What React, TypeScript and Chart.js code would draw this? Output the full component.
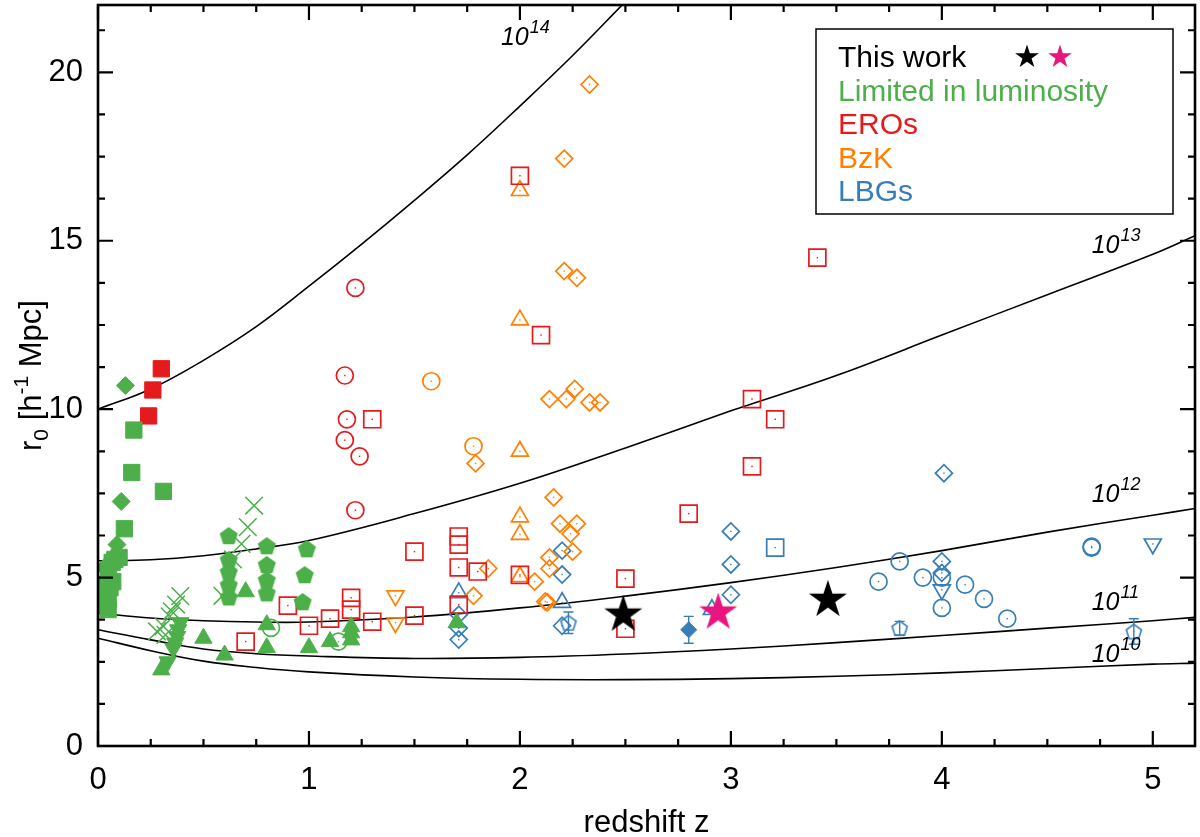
import { useEffect, useRef } from "react";
import { Chart, registerables } from "chart.js";

Chart.register(...registerables);

type Pt = [number, number];

const GREEN = "#4daf4a";
const RED = "#e41a1c";
const ORANGE = "#ff7f00";
const BLUE = "#377eb8";
const PINK = "#e8157f";
const FONT = '"Liberation Sans", Arial, Helvetica, sans-serif';

// halo mass tracks (r0 against z)
const trackZ = [0, 0.25, 0.5, 0.75, 1, 1.5, 2, 2.5, 3, 3.5, 4, 4.5, 5, 5.2];
const track13 = [5.5, 5.53, 5.65, 5.85, 6.1, 6.9, 7.8, 8.85, 9.95, 11.0, 12.2, 13.4, 14.6, 15.15];
const track12 = [3.95, 3.8, 3.72, 3.68, 3.68, 3.83, 4.1, 4.45, 4.85, 5.3, 5.8, 6.35, 6.85, 7.05];
const track11 = [3.45, 3.15, 2.88, 2.74, 2.67, 2.6, 2.63, 2.73, 2.88, 3.07, 3.28, 3.5, 3.72, 3.82];
const track10 = [3.2, 2.83, 2.52, 2.33, 2.2, 2.05, 1.98, 1.97, 2.0, 2.07, 2.17, 2.3, 2.43, 2.46];
const track14Z = [0, 0.25, 0.5, 0.75, 1, 1.25, 1.5, 1.75, 2, 2.25, 2.5];
const track14 = [10, 10.6, 11.45, 12.45, 13.65, 14.9, 16.2, 17.55, 19.0, 20.5, 22.1];
const trackLabels = ["14", "13", "12", "11", "10"];
const trackLabelZ = [1.91, 4.71, 4.71, 4.71, 4.71];
const trackLabelR = [20.8, 14.65, 7.23, 4.05, 2.5];

// This work
const starsBlack: Pt[] = [[2.49, 3.9], [3.46, 4.34]];
const starsPink: Pt[] = [[2.94, 3.96]];

// Limited in luminosity
const lumSquares: Pt[] = [
  [0.17, 9.38], [0.16, 8.12], [0.31, 7.56], [0.125, 6.45], [0.1, 5.6], [0.08, 5.54],
  [0.067, 5.45], [0.05, 5.03], [0.07, 4.88], [0.057, 4.7], [0.024, 4.8], [0.043, 4.5],
  [0.048, 4.35], [0.024, 4.2], [0.048, 4.05],
];
const lumDiamonds: Pt[] = [[0.13, 10.7], [0.11, 7.26], [0.09, 5.98], [0.03, 5.3]];
const lumCrosses: Pt[] = [
  [0.74, 7.14], [0.71, 6.5], [0.68, 6.0], [0.64, 5.54], [0.59, 4.46],
  [0.39, 4.45], [0.37, 4.2], [0.35, 4.0], [0.34, 3.85], [0.31, 3.55], [0.28, 3.4], [0.32, 3.3],
];
const lumPentagons: Pt[] = [
  [0.62, 6.25], [0.62, 5.54], [0.62, 5.18], [0.62, 4.79], [0.62, 4.43],
  [0.8, 5.95], [0.8, 5.39], [0.8, 4.94], [0.8, 4.55],
  [0.99, 5.86], [0.98, 5.09], [0.97, 4.29],
];
const lumTriangles: Pt[] = [
  [0.7, 4.58], [0.5, 3.2], [0.6, 2.7], [0.8, 3.6], [0.8, 2.92], [1.0, 2.92], [1.1, 3.1],
  [1.2, 3.54], [1.2, 3.36], [1.2, 3.15], [0.3, 2.26], [1.7, 3.66],
];
const lumInvTriangles: Pt[] = [[0.39, 3.66], [0.38, 3.45], [0.375, 3.25], [0.366, 3.06], [0.357, 2.9], [0.33, 2.5]];
const lumCircles: Pt[] = [[0.82, 3.51], [1.14, 3.1]];

// EROs
const eroFilledSquares: Pt[] = [[0.3, 11.2], [0.26, 10.57], [0.24, 9.8]];
const eroSquares: Pt[] = [
  [1.3, 9.7], [1.5, 5.77], [1.71, 6.22], [1.71, 5.98], [1.71, 5.3], [1.8, 5.18], [1.2, 4.4],
  [1.2, 4.05], [0.9, 4.17], [1.0, 3.57], [1.1, 3.78], [1.3, 3.69], [1.5, 3.87], [1.71, 4.2],
  [0.7, 3.1], [2.0, 16.93], [2.1, 12.2], [2.0, 5.08], [2.5, 4.97], [2.5, 3.48], [3.41, 14.5],
  [3.1, 10.3], [3.21, 9.7], [3.1, 8.3], [2.8, 6.9],
];
const eroCircles: Pt[] = [[1.22, 13.6], [1.17, 11.0], [1.18, 9.7], [1.17, 9.08], [1.24, 8.6], [1.22, 7.0]];

// BzK
const bzkDiamonds: Pt[] = [
  [2.33, 19.64], [2.21, 17.44], [2.21, 14.1], [2.27, 13.9], [2.14, 10.3], [2.22, 10.3],
  [2.26, 10.6], [2.33, 10.2], [2.38, 10.2], [1.79, 8.39], [2.16, 7.38], [2.19, 6.6],
  [2.27, 6.6], [2.24, 6.3], [2.25, 5.77], [2.14, 5.6], [2.14, 5.27], [1.85, 5.27],
  [2.07, 4.88], [1.78, 4.46], [2.12, 4.29], [2.13, 4.27],
];
const bzkTriangles: Pt[] = [[2.0, 16.49], [2.0, 12.65], [2.0, 8.75], [2.0, 6.8], [2.0, 6.28], [2.0, 5.03]];
const bzkCircles: Pt[] = [[1.58, 10.83], [1.78, 8.9]];
const bzkInvTriangles: Pt[] = [[1.41, 4.46], [1.41, 3.66]];

// LBGs
const lbgDiamonds: Pt[] = [
  [1.71, 3.9], [1.71, 3.5], [1.71, 3.16], [2.2, 5.8], [2.2, 5.09], [2.2, 3.57],
  [3.0, 6.37], [3.0, 5.39], [3.0, 4.49], [4.01, 8.1], [4.0, 5.48], [4.0, 5.14],
];
const lbgTriangles: Pt[] = [[1.71, 4.55], [2.2, 4.26], [2.91, 4.05]];
const lbgFilledDiamond: Pt[] = [[2.8, 3.45]];
const lbgFilledDiamondErr = [0.4];
const lbgSquares: Pt[] = [[3.21, 5.89]];
const lbgCircles: Pt[] = [
  [3.7, 4.88], [3.8, 5.48], [3.91, 5.0], [4.0, 5.0], [4.0, 4.1], [4.11, 4.79],
  [4.2, 4.37], [4.31, 3.78], [4.71, 5.89], [4.71, 5.92],
];
const lbgInvTriangles: Pt[] = [[4.0, 4.64], [5.0, 6.0]];
const lbgPentagons: Pt[] = [[2.23, 3.66], [3.8, 3.5], [4.91, 3.4]];
const lbgPentagonErr = [0.32, 0.2, 0.38];

const legendRows = [
  { text: "This work", color: "#000" },
  { text: "Limited in luminosity", color: GREEN },
  { text: "EROs", color: RED },
  { text: "BzK", color: ORANGE },
  { text: "LBGs", color: BLUE },
];

function starPath(ctx: CanvasRenderingContext2D, cx: number, cy: number, r: number) {
  ctx.beginPath();
  for (let i = 0; i < 10; i++) {
    const rr = i % 2 === 0 ? r : r * 0.382;
    const a = -Math.PI / 2 + (i * Math.PI) / 5;
    const px = cx + rr * Math.cos(a);
    const py = cy + rr * Math.sin(a);
    if (i === 0) ctx.moveTo(px, py);
    else ctx.lineTo(px, py);
  }
  ctx.closePath();
}

function markerCanvas(kind: "star" | "pentagon", r: number, color: string, filled: boolean) {
  const lw = 1.6;
  const size = Math.ceil(2 * r + 2 * lw + 2);
  const c = document.createElement("canvas");
  c.width = size;
  c.height = size;
  const ctx = c.getContext("2d")!;
  const cx = size / 2;
  const cy = size / 2;
  if (kind === "star") {
    starPath(ctx, cx, cy, r);
  } else {
    ctx.beginPath();
    for (let i = 0; i < 5; i++) {
      const a = -Math.PI / 2 + (i * 2 * Math.PI) / 5;
      const px = cx + r * Math.cos(a);
      const py = cy + r * Math.sin(a) + r * 0.1;
      if (i === 0) ctx.moveTo(px, py);
      else ctx.lineTo(px, py);
    }
    ctx.closePath();
  }
  if (filled) {
    ctx.fillStyle = color;
    ctx.fill();
  } else {
    ctx.strokeStyle = color;
    ctx.lineWidth = lw;
    ctx.stroke();
  }
  return c;
}

const toXY = (list: Pt[]) => list.map(([x, y]) => ({ x, y }));

function marks(data: Pt[], pointStyle: any, color: string, filled: boolean, radius: number, extra: any = {}) {
  return {
    type: "scatter" as const,
    data: toXY(data),
    pointStyle,
    pointRadius: radius,
    pointHoverRadius: radius,
    borderWidth: filled ? 1 : 1.7,
    borderColor: color,
    backgroundColor: filled ? color : "rgba(0,0,0,0)",
    showLine: false,
    order: 1,
    centerDot: !filled && pointStyle !== "crossRot",
    ...extra,
  };
}

function track(z: number[], r: number[]) {
  return {
    type: "line" as const,
    data: z.map((x, i) => ({ x, y: r[i] })),
    borderColor: "#000",
    borderWidth: 1.6,
    pointRadius: 0,
    tension: 0.4,
    fill: false,
    order: 5,
  };
}

const framePlugin = {
  id: "frame",
  afterDatasetsDraw(chart: any) {
    const { ctx, chartArea: a, scales } = chart;
    const sx = scales.x;
    const sy = scales.y;
    ctx.save();

    // centre dots of open markers and error bars
    chart.data.datasets.forEach((ds: any, i: number) => {
      const meta = chart.getDatasetMeta(i);
      if (ds.centerDot) {
        ctx.fillStyle = ds.borderColor;
        meta.data.forEach((el: any) => ctx.fillRect(el.x - 0.7, el.y - 0.7, 1.4, 1.4));
      }
      if (ds.errors) {
        ctx.strokeStyle = ds.borderColor;
        ctx.lineWidth = 1.4;
        meta.data.forEach((el: any, j: number) => {
          const v = ds.data[j].y;
          const e = ds.errors[j];
          const top = sy.getPixelForValue(v + e);
          const bot = sy.getPixelForValue(v - e);
          ctx.beginPath();
          ctx.moveTo(el.x, top);
          ctx.lineTo(el.x, bot);
          ctx.moveTo(el.x - 5, top);
          ctx.lineTo(el.x + 5, top);
          ctx.moveTo(el.x - 5, bot);
          ctx.lineTo(el.x + 5, bot);
          ctx.stroke();
        });
      }
    });

    ctx.strokeStyle = "#000";
    ctx.lineWidth = 2.6;
    ctx.strokeRect(a.left, a.top, a.right - a.left, a.bottom - a.top);
    ctx.lineWidth = 2.2;
    ctx.beginPath();
    for (const t of sx.ticks) {
      const px = sx.getPixelForValue(t.value);
      const len = Math.abs(t.value - Math.round(t.value)) < 1e-6 ? 15 : 7;
      ctx.moveTo(px, a.bottom);
      ctx.lineTo(px, a.bottom - len);
      ctx.moveTo(px, a.top);
      ctx.lineTo(px, a.top + len);
    }
    for (const t of sy.ticks) {
      const py = sy.getPixelForValue(t.value);
      const len = Math.abs(t.value / 5 - Math.round(t.value / 5)) < 1e-6 ? 15 : 7;
      ctx.moveTo(a.left, py);
      ctx.lineTo(a.left + len, py);
      ctx.moveTo(a.right, py);
      ctx.lineTo(a.right - len, py);
    }
    ctx.stroke();

    // mass labels on the tracks
    ctx.fillStyle = "#000";
    ctx.textBaseline = "alphabetic";
    ctx.textAlign = "left";
    trackLabels.forEach((exp, i) => {
      const px = sx.getPixelForValue(trackLabelZ[i]);
      const py = sy.getPixelForValue(trackLabelR[i]);
      ctx.font = `italic 25px ${FONT}`;
      ctx.fillText("10", px, py);
      const w = ctx.measureText("10").width;
      ctx.font = `italic 18px ${FONT}`;
      ctx.fillText(exp, px + w + 1, py - 12);
    });
    ctx.restore();
  },
  afterDraw(chart: any) {
    const { ctx, chartArea: a } = chart;
    ctx.save();
    ctx.fillStyle = "#000";
    ctx.textAlign = "left";
    ctx.textBaseline = "alphabetic";

    // x title
    ctx.font = `31px ${FONT}`;
    ctx.textAlign = "center";
    ctx.fillText("redshift z", (a.left + a.right) / 2, 832);

    // y title with sub/superscript
    const parts = [
      { t: "r", size: 31, dy: 0 },
      { t: "0", size: 21, dy: 7 },
      { t: " [h", size: 31, dy: 0 },
      { t: "-1", size: 21, dy: -13 },
      { t: " Mpc]", size: 31, dy: 0 },
    ];
    ctx.textAlign = "left";
    let total = 0;
    for (const p of parts) {
      ctx.font = `${p.size}px ${FONT}`;
      total += ctx.measureText(p.t).width;
    }
    ctx.translate(30, (a.top + a.bottom) / 2);
    ctx.rotate(-Math.PI / 2);
    let cx = -total / 2;
    for (const p of parts) {
      ctx.font = `${p.size}px ${FONT}`;
      ctx.fillText(p.t, cx, 11 + p.dy);
      cx += ctx.measureText(p.t).width;
    }
    ctx.setTransform(1, 0, 0, 1, 0, 0);

    // legend box
    ctx.fillStyle = "#fff";
    ctx.fillRect(816, 29, 357, 185);
    ctx.strokeStyle = "#000";
    ctx.lineWidth = 1.5;
    ctx.strokeRect(816, 29, 357, 185);
    ctx.font = `30px ${FONT}`;
    const baselines = [67, 101, 134, 168, 201];
    legendRows.forEach((row, i) => {
      ctx.fillStyle = row.color;
      ctx.fillText(row.text, 838, baselines[i]);
    });
    ctx.fillStyle = "#000";
    starPath(ctx, 1027, 57, 12.5);
    ctx.fill();
    ctx.fillStyle = PINK;
    starPath(ctx, 1060, 57, 12.5);
    ctx.fill();
    ctx.restore();
  },
};

export default function App() {
  const canvasRef = useRef<HTMLCanvasElement | null>(null);
  const chartRef = useRef<Chart | null>(null);

  useEffect(() => {
    if (!canvasRef.current) {
      return;
    }
    if (chartRef.current) {
      chartRef.current.destroy();
    }

    const starBlack = markerCanvas("star", 20, "#000", true);
    const starPink = markerCanvas("star", 20, PINK, true);
    const pentGreen = markerCanvas("pentagon", 9.5, GREEN, true);
    const pentBlue = markerCanvas("pentagon", 8, BLUE, false);

    const datasets: any[] = [
      { ...marks(starsBlack, starBlack, "#000", true, 20), order: 0 },
      { ...marks(starsPink, starPink, PINK, true, 20), order: 0 },
      marks(lumSquares, "rect", GREEN, true, 11.5),
      marks(lumDiamonds, "rectRot", GREEN, true, 9),
      marks(lumCrosses, "crossRot", GREEN, false, 12.5, { borderWidth: 1.5 }),
      marks(lumPentagons, pentGreen, GREEN, true, 10),
      marks(lumTriangles, "triangle", GREEN, true, 10),
      marks(lumInvTriangles, "triangle", GREEN, true, 10, { pointRotation: 180 }),
      marks(lumCircles, "circle", GREEN, false, 8.5),
      marks(eroFilledSquares, "rect", RED, true, 11.5),
      marks(eroSquares, "rect", RED, false, 12),
      marks(eroCircles, "circle", RED, false, 8.5),
      marks(bzkDiamonds, "rectRot", ORANGE, false, 8.5),
      marks(bzkTriangles, "triangle", ORANGE, false, 9.8),
      marks(bzkCircles, "circle", ORANGE, false, 8.5),
      marks(bzkInvTriangles, "triangle", ORANGE, false, 9.8, { pointRotation: 180 }),
      marks(lbgDiamonds, "rectRot", BLUE, false, 8.5),
      marks(lbgTriangles, "triangle", BLUE, false, 9.8),
      marks(lbgFilledDiamond, "rectRot", BLUE, true, 8, { errors: lbgFilledDiamondErr }),
      marks(lbgSquares, "rect", BLUE, false, 12),
      marks(lbgCircles, "circle", BLUE, false, 8.5),
      marks(lbgInvTriangles, "triangle", BLUE, false, 9.8, { pointRotation: 180 }),
      marks(lbgPentagons, pentBlue, BLUE, false, 9, { errors: lbgPentagonErr, centerDot: true }),
      track(track14Z, track14),
      track(trackZ, track13),
      track(trackZ, track12),
      track(trackZ, track11),
      track(trackZ, track10),
    ];

    chartRef.current = new Chart(canvasRef.current, {
      type: "scatter",
      data: { datasets },
      options: {
        animation: false,
        responsive: false,
        layout: { autoPadding: false, padding: { top: 5, right: 5, left: 0, bottom: 0 } },
        plugins: {
          legend: { display: false },
          tooltip: { enabled: false },
        },
        scales: {
          x: {
            type: "linear",
            min: 0,
            max: 5.2,
            grid: { display: false, drawTicks: false },
            border: { display: false },
            ticks: {
              stepSize: 0.25,
              includeBounds: false,
              autoSkip: false,
              maxRotation: 0,
              padding: 16,
              color: "#000",
              font: { family: FONT, size: 31 },
              callback: (v: any) => (Number.isInteger(v) ? String(v) : ""),
            },
            afterFit: (scale: any) => {
              scale.height = 91;
              scale.paddingLeft = 0;
              scale.paddingRight = 0;
            },
          },
          y: {
            type: "linear",
            min: 0,
            max: 22,
            grid: { display: false, drawTicks: false },
            border: { display: false },
            ticks: {
              stepSize: 1.25,
              includeBounds: false,
              autoSkip: false,
              padding: 15,
              color: "#000",
              font: { family: FONT, size: 31 },
              callback: (v: any) => (Number(v) % 5 === 0 ? String(v) : ""),
            },
            afterFit: (scale: any) => {
              scale.width = 98;
              scale.paddingTop = 0;
              scale.paddingBottom = 0;
            },
          },
        },
      },
      plugins: [framePlugin],
    } as any);

    return () => {
      chartRef.current?.destroy();
      chartRef.current = null;
    };
  }, []);

  return (
    <div style={{ position: "absolute", left: 0, top: 0, width: 1200, height: 837, background: "#fff" }}>
      <canvas ref={canvasRef} width={1200} height={837} />
    </div>
  );
}
